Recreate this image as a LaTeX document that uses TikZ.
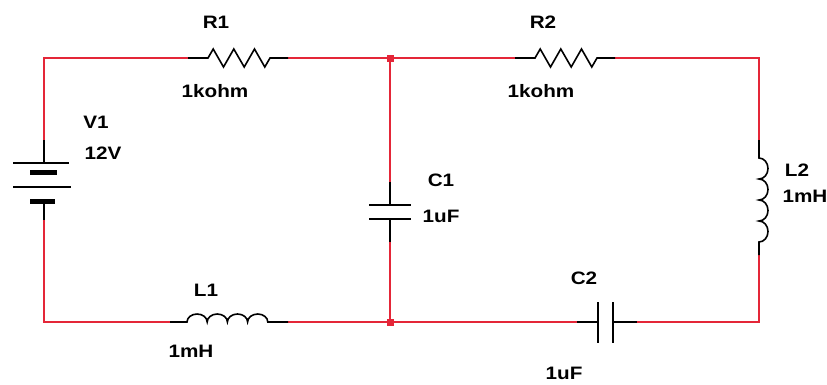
\documentclass[tikz,border=0pt]{standalone}
\usepackage{fontspec}
\setmainfont{Liberation Sans}
\definecolor{wirered}{RGB}{228,38,56}
\newcommand\lbl[1]{\scalebox{1.15}[1]{#1}}
\tikzset{
  wire/.style={draw=wirered, line width=1.6pt},
  lead/.style={draw=black, line width=1.6pt},
  plate/.style={draw=black, line width=2.2pt},
  thickplate/.style={draw=black, line width=5pt},
  lbltext/.style={font=\fontsize{18}{18}\selectfont\bfseries, inner sep=0pt},
  junction/.style={fill=wirered, draw=none, minimum size=7pt, inner sep=0pt, rectangle}
}
\begin{document}
\begin{tikzpicture}[x=1pt,y=-1pt]
\useasboundingbox (0,0) rectangle (827,384);
% corners and terminals
\coordinate (tl) at (44,58);
\coordinate (bl) at (44,322);
\coordinate (tr) at (759,58);
\coordinate (br) at (759,322);
\node[junction] (jt) at (390,58) {};
\node[junction] (jb) at (390,322) {};
% V1 terminals
\coordinate (v1a) at (44,140);
\coordinate (v1b) at (44,220);
% R1
\coordinate (r1a) at (188,58);
\coordinate (r1b) at (288,58);
% R2
\coordinate (r2a) at (515,58);
\coordinate (r2b) at (615,58);
% C1
\coordinate (c1a) at (390,182);
\coordinate (c1b) at (390,242);
% L1
\coordinate (l1a) at (170,322);
\coordinate (l1b) at (288,322);
% L2
\coordinate (l2a) at (759,140);
\coordinate (l2b) at (759,255);
% C2
\coordinate (c2a) at (577,322);
\coordinate (c2b) at (637,322);

% wires
\draw[wire] (v1a) -- (tl) -- (r1a);
\draw[wire] (r1b) -- (jt.center) -- (r2a);
\draw[wire] (r2b) -- (tr) -- (l2a);
\draw[wire] (l2b) -- (br) -- (c2b);
\draw[wire] (c2a) -- (jb.center) -- (l1b);
\draw[wire] (l1a) -- (bl) -- (v1b);
\draw[wire] (jt.center) -- (c1a);
\draw[wire] (c1b) -- (jb.center);
\node[junction] at (jt) {};
\node[junction] at (jb) {};

% V1 battery
\draw[lead] (v1a) -- (44,163);
\draw[plate] (13,163) -- (69,163);
\draw[thickplate] (30,172) -- (57,172);
\draw[plate] (13,187) -- (71,187);
\draw[thickplate] (30,201) -- (55,201);
\draw[lead] (44,201) -- (v1b);

% R1 resistor
\draw[lead, line join=miter] (r1a) -- (208,58) -- (213.2,49) -- (223.5,67) -- (233.8,49) -- (244.2,67) -- (254.5,49) -- (264.8,67) -- (270,58) -- (r1b);
% R2 resistor
\draw[lead, line join=miter] (r2a) -- (535,58) -- (540.2,49) -- (550.5,67) -- (560.8,49) -- (571.2,67) -- (581.5,49) -- (591.8,67) -- (597,58) -- (r2b);

% C1
\draw[lead] (c1a) -- (390,205);
\draw[plate] (369,205) -- (411,205);
\draw[plate] (369,219) -- (411,219);
\draw[lead] (390,219) -- (c1b);

% C2
\draw[lead] (c2a) -- (598,322);
\draw[plate] (598,302) -- (598,343);
\draw[plate] (613,302) -- (613,343);
\draw[lead] (613,322) -- (c2b);

% L1 inductor (bumps upward)
\draw[lead] (l1a) -- (187,322)
  arc[start angle=180, end angle=360, x radius=10.1, y radius=8]
  arc[start angle=180, end angle=360, x radius=10.1, y radius=8]
  arc[start angle=180, end angle=360, x radius=10.1, y radius=8]
  arc[start angle=180, end angle=360, x radius=10.1, y radius=8]
  -- (l1b);
% L2 inductor (bumps to the right)
\draw[lead] (l2a) -- (759,158)
  arc[start angle=-90, end angle=90, x radius=9, y radius=10.5]
  arc[start angle=-90, end angle=90, x radius=9, y radius=10.5]
  arc[start angle=-90, end angle=90, x radius=9, y radius=10.5]
  arc[start angle=-90, end angle=90, x radius=9, y radius=10.5]
  -- (l2b);

% labels
\node[lbltext] (lR1) at (216,22) {\lbl{R1}};
\node[lbltext] (vR1) at (215,91) {\lbl{1kohm}};
\node[lbltext] (lR2) at (543,22) {\lbl{R2}};
\node[lbltext] (vR2) at (541,91) {\lbl{1kohm}};
\node[lbltext] (lV1) at (96,122) {\lbl{V1}};
\node[lbltext] (vV1) at (103,153) {\lbl{12V}};
\node[lbltext] (lC1) at (441,180) {\lbl{C1}};
\node[lbltext] (vC1) at (441,216) {\lbl{1uF}};
\node[lbltext] (lC2) at (584,278) {\lbl{C2}};
\node[lbltext] (vC2) at (564,373) {\lbl{1uF}};
\node[lbltext] (lL2) at (797,170) {\lbl{L2}};
\node[lbltext] (vL2) at (805,196) {\lbl{1mH}};
\node[lbltext] (lL1) at (206,290) {\lbl{L1}};
\node[lbltext] (vL1) at (191,351) {\lbl{1mH}};
\end{tikzpicture}
\end{document}
